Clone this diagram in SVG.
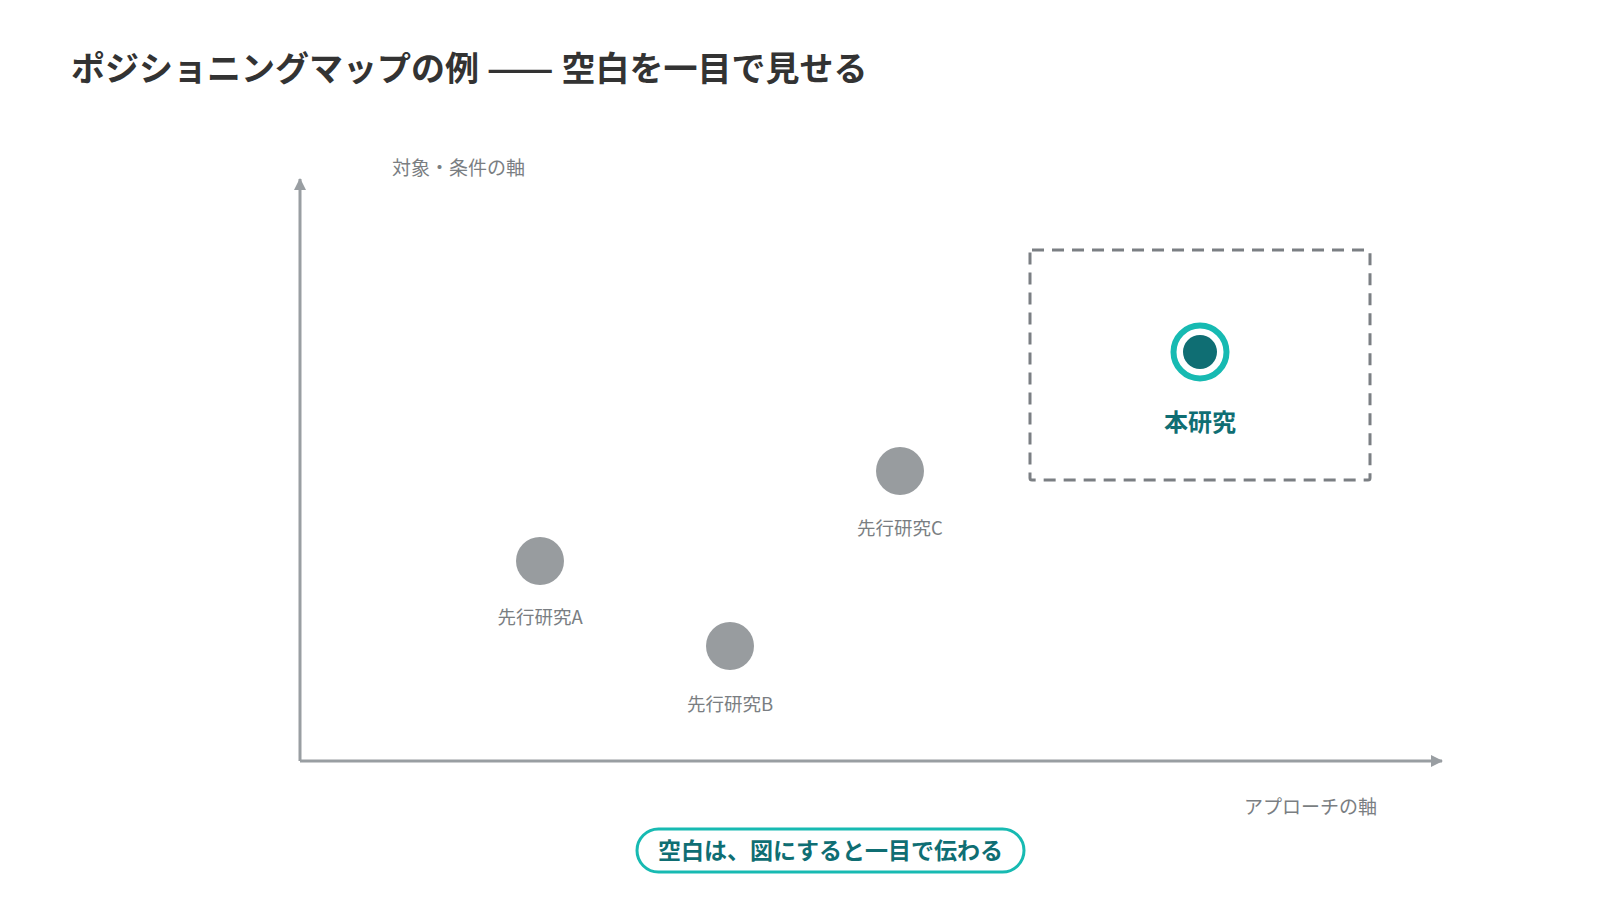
<svg xmlns="http://www.w3.org/2000/svg" width="1600" height="900" viewBox="0 0 1600 900">
  <defs>
    <style>
      .title { font-family: "Noto Sans CJK JP", "Noto Sans", sans-serif; font-size: 34px; font-weight: 700; fill: #333333; }
      .axislabel { font-family: "Noto Sans CJK JP", "Noto Sans", sans-serif; font-size: 19px; fill: #7a7e82; }
      .plabel { font-family: "Noto Sans CJK JP", "Noto Sans", sans-serif; font-size: 18.5px; fill: #7a7e82; text-anchor: middle; }
      .mainlabel { font-family: "Noto Sans CJK JP", "Noto Sans", sans-serif; font-size: 24px; font-weight: 700; fill: #0f6e73; text-anchor: middle; }
      .pilltext { font-family: "Noto Sans CJK JP", "Noto Sans", sans-serif; font-size: 23px; font-weight: 700; fill: #0f6e73; text-anchor: middle; }
      .axis { stroke: #999ea2; stroke-width: 3; fill: none; }
      .prior { fill: #989c9f; }
    </style>
    <marker id="arrow" viewBox="0 0 12 12" refX="11" refY="6" markerWidth="12" markerHeight="12" markerUnits="userSpaceOnUse" orient="auto">
      <path d="M0,0 L12,6 L0,12 Z" fill="#999ea2"/>
    </marker>
  </defs>
  <rect width="1600" height="900" fill="#ffffff"/>

  <text class="title" x="71" y="81">ポジショニングマップの例 <tspan textLength="67" lengthAdjust="spacingAndGlyphs">——</tspan> 空白を一目で見せる</text>

  <g id="connectors">
    <line class="axis" x1="300" y1="761" x2="1442" y2="761" marker-end="url(#arrow)"/>
    <line class="axis" x1="300" y1="761" x2="300" y2="179" marker-end="url(#arrow)"/>
  </g>

  <g id="axis-labels">
    <text class="axislabel" x="392" y="175">対象・条件の軸</text>
    <text class="axislabel" x="1377" y="814" text-anchor="end">アプローチの軸</text>
  </g>

  <g id="prior-a">
    <circle class="prior" cx="540" cy="561" r="24"/>
    <text class="plabel" x="540" y="624">先行研究A</text>
  </g>
  <g id="prior-b">
    <circle class="prior" cx="730" cy="646" r="24"/>
    <text class="plabel" x="730" y="711">先行研究B</text>
  </g>
  <g id="prior-c">
    <circle class="prior" cx="900" cy="471" r="24"/>
    <text class="plabel" x="900" y="535">先行研究C</text>
  </g>

  <g id="this-study">
    <rect x="1030" y="250" width="340" height="230" rx="2" fill="none" stroke="#7b7f83" stroke-width="3" stroke-dasharray="12 8"/>
    <circle cx="1200" cy="352" r="26.5" fill="#ffffff" stroke="#17bab2" stroke-width="6"/>
    <circle cx="1200" cy="352" r="17" fill="#0f6e73"/>
    <text class="mainlabel" x="1200" y="431">本研究</text>
  </g>

  <g id="message">
    <rect x="637" y="829" width="387" height="43" rx="21.5" fill="#ffffff" stroke="#17bab2" stroke-width="3"/>
    <text class="pilltext" x="830.5" y="859">空白は、図にすると一目で伝わる</text>
  </g>
</svg>
